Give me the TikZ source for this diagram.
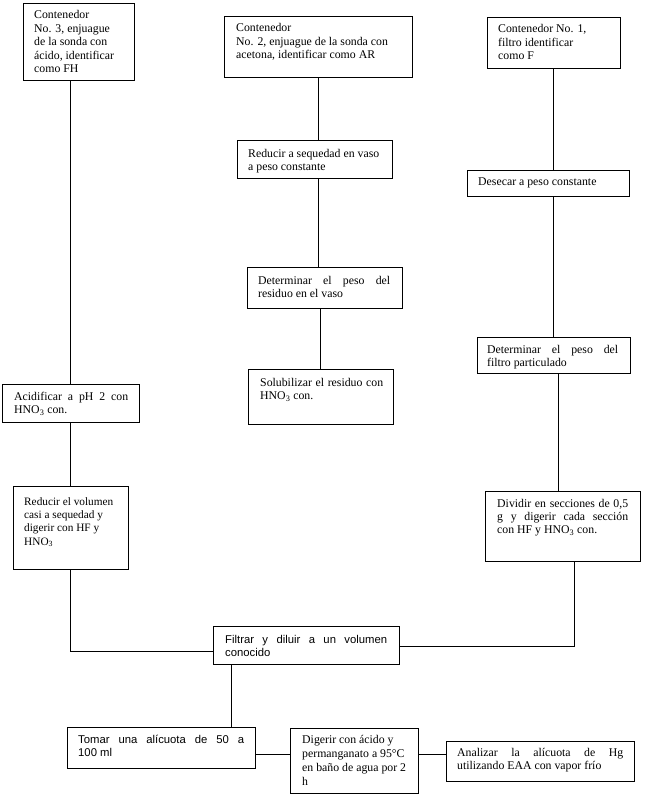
\documentclass[tikz,border=0pt]{standalone}
\usepackage{fontspec}
\setmainfont{Liberation Serif}
\newfontfamily\arialf{Liberation Sans}
\usetikzlibrary{fit}
\newcommand\sline[2]{{\spaceskip=0pt\xspaceskip=0pt\makebox[#1pt][s]{#2}}}
\newcommand\mkbox[5]{\coordinate (#1-a) at (#2,#3); \coordinate (#1-b) at (#4,#5); \node[box, fit=(#1-a)(#1-b)] (#1) {};}
\begin{document}
\begin{tikzpicture}[x=1pt,y=-1pt,
  box/.style={draw, line width=0.9pt, inner sep=0pt},
  txt/.style={inner sep=0pt, anchor=base west, align=flush left, text width=#1pt, font=\fontsize{11.8}{13.4}\selectfont},
  stxt/.style={txt=#1, font=\arialf\fontsize{11.3}{13.4}\selectfont},
  conn/.style={line width=0.9pt}]
\useasboundingbox (0,0) rectangle (656,797);

% left column
\mkbox{fh}{23}{3}{134}{80}
\node[txt=100] (fh-t) at (34,19) {Contenedor\\No. 3, enjuague\\de la sonda con\\ácido, identificar\\como FH};
\mkbox{acid}{2}{384}{139}{422}
\node[txt=120] (acid-t) at (14,400) {\sline{114}{Acidificar a pH 2 con}\\HNO\textsubscript{3} con.};
\mkbox{redvol}{13}{486}{128}{569}
\node[txt=105, font=\fontsize{11.3}{13.4}\selectfont] (redvol-t) at (24,505) {Reducir el volumen\\casi a sequedad y\\digerir con HF y\\HNO\textsubscript{3}};

% middle column
\mkbox{ar}{224}{16}{412}{77}
\node[txt=175] (ar-t) at (236,32) {Contenedor\\No. 2, enjuague de la sonda con\\acetona, identificar como AR};
\mkbox{redseq}{237}{140}{392}{178}
\node[txt=150] (redseq-t) at (248,157) {Reducir a sequedad en vaso\\a peso constante};
\mkbox{detres}{247}{267}{402}{308}
\node[txt=140] (detres-t) at (258,284) {\sline{132}{Determinar el peso del}\\residuo en el vaso};
\mkbox{sol}{248}{369}{393}{424}
\node[txt=130] (sol-t) at (260,386) {\sline{123}{Solubilizar el residuo con}\\HNO\textsubscript{3} con.};

% right column
\mkbox{f}{487}{17}{620}{68}
\node[txt=120] (f-t) at (498,33) {Contenedor No. 1,\\filtro identificar\\como F};
\mkbox{desecar}{467}{170}{629}{196}
\node[txt=150] (desecar-t) at (478,185) {Desecar a peso constante};
\mkbox{detfil}{477}{337}{630}{373}
\node[txt=140] (detfil-t) at (487,353) {\sline{131}{Determinar el peso del}\\filtro particulado};
\mkbox{div}{485}{491}{640}{561}
\node[txt=140] (div-t) at (497,507) {\sline{131}{Dividir en secciones de 0,5}\\\sline{131}{g y digerir cada sección}\\con HF y HNO\textsubscript{3} con.};

% bottom
\mkbox{filt}{213}{626}{399}{664}
\node[stxt=170] (filt-t) at (225,643) {\sline{162}{Filtrar y diluir a un volumen}\\conocido};
\mkbox{tomar}{67}{727}{255}{768}
\node[stxt=170] (tomar-t) at (78,743) {\sline{166}{Tomar una alícuota de 50 a}\\100 ml};
\mkbox{dig}{290}{728}{418}{793}
\node[txt=120, font=\fontsize{11.8}{14}\selectfont] (dig-t) at (302,743) {Digerir con ácido y\\permanganato a 95°C\\en baño de agua por 2\\h};
\mkbox{anal}{446}{741}{634}{781}
\node[txt=170] (anal-t) at (457,756) {\sline{166}{Analizar la alícuota de Hg}\\utilizando EAA con vapor frío};

% connector helper points
\coordinate (filtL) at ([yshift=-6pt]filt.west);
\coordinate (filtR) at ([yshift=-1.5pt]filt.east);
\coordinate (divS) at ([xshift=11.5pt]div.south);
\coordinate (divN) at ([xshift=-4pt]div.north);
\coordinate (filtS) at ([xshift=19pt]filt.south west);
\coordinate (tomE) at ([yshift=-6.5pt]tomar.east);
\coordinate (digE) at ([yshift=6.5pt]dig.east);

% connectors
\draw[conn] (fh.south -| acid.north) -- (acid.north);
\draw[conn] (acid.south) -- (redvol.north);
\draw[conn] (redvol.south) -- (redvol.south |- filtL) -- (filtL);
\draw[conn] (divS) -- (divS |- filtR) -- (filtR);

\draw[conn] (ar.south) -- (ar.south |- redseq.north);
\draw[conn] (ar.south |- redseq.south) -- (ar.south |- detres.north);
\draw[conn] (sol.north |- detres.south) -- (sol.north);

\draw[conn] (f.south) -- (f.south |- desecar.north);
\draw[conn] (detfil.north |- desecar.south) -- (detfil.north);
\draw[conn] (divN |- detfil.south) -- (divN);

\draw[conn] (filtS) -- (filtS |- tomar.north);
\draw[conn] (tomE) -- (tomE -| dig.west);
\draw[conn] (digE) -- (digE -| anal.west);
\end{tikzpicture}
\end{document}
